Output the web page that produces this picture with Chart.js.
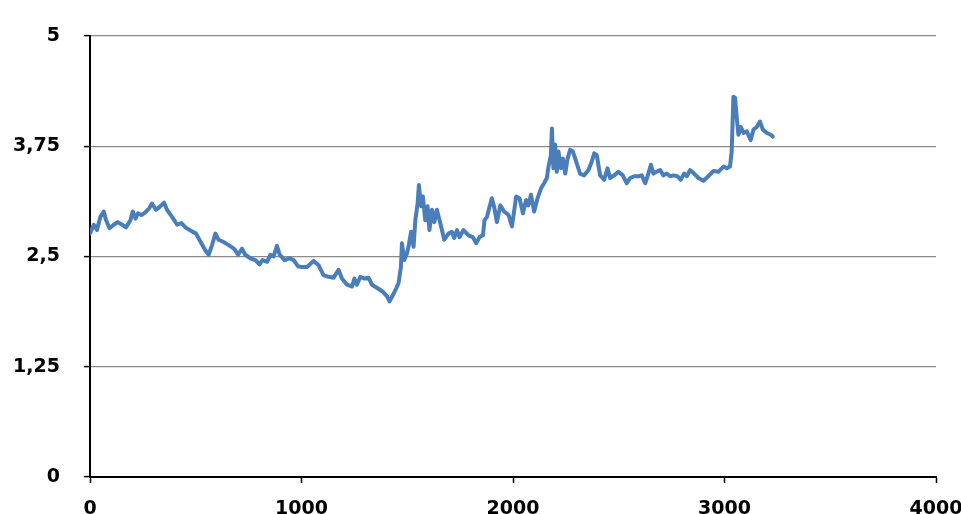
<!DOCTYPE html>
<html>
<head>
<meta charset="utf-8">
<script src="https://cdn.jsdelivr.net/npm/chart.js@4/dist/chart.umd.min.js"></script>
<style>
html,body{margin:0;padding:0;background:#fff;}
#wrap{width:961px;height:514px;position:relative;}
</style>
</head>
<body>
<div id="wrap"><canvas id="c" width="961" height="514"></canvas></div>
<script>
const xValues = [0,18,33,49,65,76,92,112,131,152,170,191,202,215,227,243,262,281,293,312,328,350,364,388,412,432,451,479,501,522,545,561,577,593,608,627,648,668,684,700,719,734,758,782,801,816,837,853,868,884,897,920,942,963,983,1002,1026,1057,1081,1104,1128,1152,1175,1191,1215,1239,1250,1262,1278,1297,1317,1333,1360,1385,1404,1416,1432,1448,1459,1470,1475,1486,1499,1506,1518,1530,1538,1549,1555,1565,1574,1585,1596,1605,1617,1628,1640,1656,1675,1695,1711,1722,1735,1747,1766,1790,1810,1826,1842,1858,1865,1877,1889,1900,1911,1924,1940,1958,1979,1995,2015,2031,2047,2062,2073,2085,2100,2116,2132,2147,2160,2168,2179,2184,2191,2199,2207,2215,2226,2236,2247,2258,2270,2283,2298,2317,2336,2357,2373,2384,2396,2412,2431,2447,2459,2478,2499,2519,2538,2554,2573,2593,2609,2625,2640,2652,2664,2677,2696,2711,2727,2743,2759,2777,2793,2809,2822,2837,2856,2877,2900,2924,2948,2971,2995,3011,3026,3034,3042,3050,3058,3066,3077,3090,3105,3124,3137,3153,3168,3181,3200,3219,3228];
const yValues = [2.76,2.86,2.80,2.95,3.01,2.91,2.82,2.86,2.89,2.86,2.83,2.91,3.01,2.93,2.99,2.97,3.00,3.05,3.10,3.03,3.06,3.11,3.03,2.95,2.86,2.88,2.83,2.79,2.76,2.67,2.57,2.52,2.63,2.76,2.69,2.67,2.64,2.61,2.58,2.52,2.59,2.52,2.48,2.46,2.41,2.46,2.44,2.52,2.50,2.62,2.52,2.46,2.48,2.46,2.39,2.38,2.38,2.45,2.40,2.29,2.27,2.26,2.35,2.25,2.18,2.16,2.25,2.18,2.27,2.25,2.26,2.18,2.14,2.10,2.05,1.99,2.06,2.14,2.20,2.38,2.65,2.46,2.54,2.61,2.78,2.61,2.91,3.10,3.31,3.07,3.18,2.91,3.07,2.80,3.03,2.89,3.03,2.88,2.69,2.76,2.78,2.71,2.80,2.72,2.80,2.74,2.72,2.65,2.72,2.74,2.91,2.95,3.06,3.16,3.06,2.89,3.08,3.01,2.97,2.84,3.18,3.16,2.99,3.14,3.08,3.20,3.01,3.16,3.27,3.33,3.39,3.52,3.65,3.95,3.50,3.77,3.46,3.69,3.50,3.61,3.44,3.61,3.71,3.69,3.58,3.44,3.42,3.48,3.58,3.67,3.65,3.42,3.37,3.50,3.39,3.42,3.46,3.42,3.33,3.39,3.41,3.41,3.42,3.33,3.44,3.54,3.44,3.46,3.48,3.42,3.44,3.41,3.42,3.41,3.37,3.44,3.41,3.48,3.44,3.39,3.36,3.41,3.47,3.46,3.52,3.50,3.52,3.69,4.31,4.30,4.07,3.88,3.97,3.90,3.92,3.82,3.94,3.97,4.03,3.94,3.90,3.88,3.86];
const xTicks = [0,1000,2000,3000,4000];
const yTicks = [0,1.25,2.5,3.75,5];

const points = xValues.map((x,i)=>({x:x,y:yValues[i]}));
const tickFont = {family:'"DejaVu Sans", Verdana, sans-serif', size:19, weight:'bold'};

new Chart(document.getElementById('c'), {
  type:'scatter',
  data:{datasets:[{
    data:points,
    showLine:true,
    borderColor:'#4a7ebb',
    backgroundColor:'#4a7ebb',
    borderWidth:4,
    pointRadius:0,
    tension:0,
    borderJoinStyle:'round',
    borderCapStyle:'round'
  }]},
  options:{
    responsive:false,
    animation:false,
    devicePixelRatio:1,
    plugins:{legend:{display:false},tooltip:{enabled:false}},
    layout:{padding:{left:0,right:25,top:36,bottom:0}},
    scales:{
      x:{
        type:'linear',min:0,max:4000,
        afterBuildTicks:(s)=>{s.ticks = xTicks.map(v=>({value:v}));},
        afterFit:(s)=>{s.height = 37; s.paddingLeft = 0; s.paddingRight = 0;},
        border:{color:'#000',width:2},
        grid:{drawOnChartArea:false,drawTicks:true,tickLength:6,tickColor:'#000',tickWidth:1.5},
        ticks:{color:'#000',font:tickFont,padding:15,maxRotation:0,autoSkip:false,callback:(v)=>String(v)}
      },
      y:{
        type:'linear',min:0,max:5,
        afterBuildTicks:(s)=>{s.ticks = yTicks.map(v=>({value:v}));},
        afterFit:(s)=>{s.width = 90; s.paddingTop = 0; s.paddingBottom = 0;},
        border:{color:'#000',width:2},
        grid:{color:'#8a8a8a',lineWidth:1.2,drawTicks:true,tickLength:6,tickColor:'#000',tickWidth:1.5},
        ticks:{color:'#000',font:tickFont,padding:24,autoSkip:false,callback:(v)=>String(v).replace('.',',')}
      }
    }
  }
});
</script>
</body>
</html>
